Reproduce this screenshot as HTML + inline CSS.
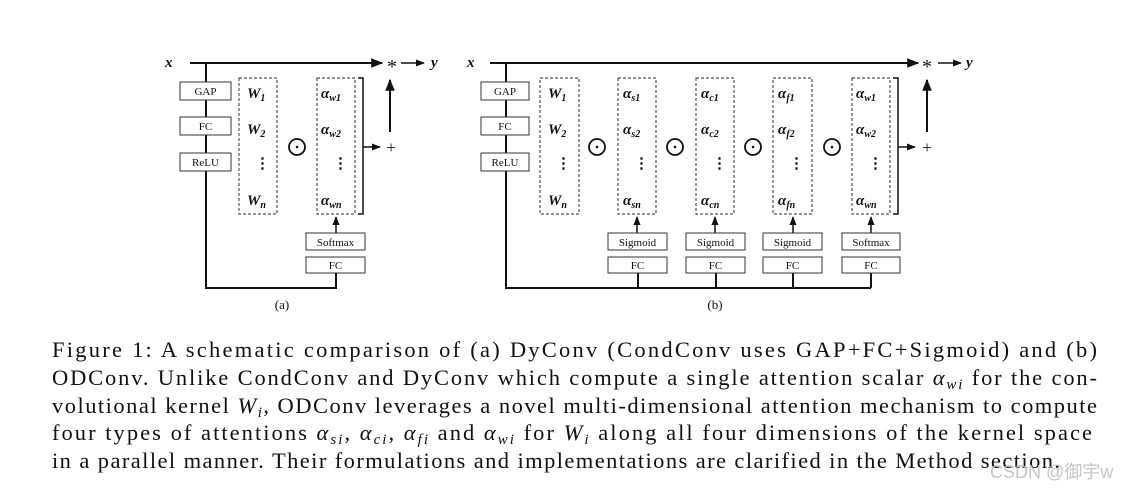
<!DOCTYPE html>
<html><head><meta charset="utf-8"><style>
html,body{margin:0;padding:0;background:#fff;}
svg{display:block}
.b{font-family:"Liberation Serif",serif;font-size:11px;fill:#111}
.m{font-family:"Liberation Serif",serif;font-weight:bold;font-style:italic;font-size:15px;fill:#111}
.s{font-size:10px}
.c{font-family:"Liberation Serif",serif;font-size:22.5px;fill:#111}
</style></head><body>
<svg width="1135" height="492" viewBox="0 0 1135 492" xmlns="http://www.w3.org/2000/svg">
<defs>
<marker id="ar" viewBox="0 0 10 10" refX="9" refY="5" markerWidth="6" markerHeight="6" orient="auto"><path d="M0,1 L10,5 L0,9 z" fill="#111"/></marker>
<g id="wcol" class="m">
</g>
</defs>
<g stroke="#111" stroke-width="2" fill="none">
<!-- (a) -->
<line x1="190" y1="63" x2="382" y2="63" marker-end="url(#ar)"/>
<line x1="401" y1="63" x2="424" y2="63" stroke-width="1.5" marker-end="url(#ar)"/>
<polyline points="206,63 206,288 336,288 336,272"/>
<line x1="336" y1="237" x2="336" y2="217" stroke-width="1.5" marker-end="url(#ar)"/>
<polyline points="358,78 363,78 363,214 358,214" stroke-width="1.5"/>
<line x1="363" y1="147" x2="380" y2="147" stroke-width="1.5" marker-end="url(#ar)"/>
<line x1="390" y1="132" x2="390" y2="80" marker-end="url(#ar)"/>
<circle cx="297" cy="147" r="8" stroke-width="1.8"/>
<!-- (b) -->
<line x1="490" y1="63" x2="918" y2="63" marker-end="url(#ar)"/>
<line x1="938" y1="63" x2="961" y2="63" stroke-width="1.5" marker-end="url(#ar)"/>
<polyline points="506,63 506,288 871,288"/>
<line x1="638" y1="288" x2="638" y2="272"/>
<line x1="716" y1="288" x2="716" y2="272"/>
<line x1="793" y1="288" x2="793" y2="272"/>
<line x1="871" y1="288" x2="871" y2="272"/>
<line x1="637" y1="237" x2="637" y2="217" stroke-width="1.5" marker-end="url(#ar)"/>
<line x1="715" y1="237" x2="715" y2="217" stroke-width="1.5" marker-end="url(#ar)"/>
<line x1="793" y1="237" x2="793" y2="217" stroke-width="1.5" marker-end="url(#ar)"/>
<line x1="871" y1="237" x2="871" y2="217" stroke-width="1.5" marker-end="url(#ar)"/>
<polyline points="893,78 898,78 898,214 893,214" stroke-width="1.5"/>
<line x1="898" y1="147" x2="915" y2="147" stroke-width="1.5" marker-end="url(#ar)"/>
<line x1="927" y1="132" x2="927" y2="80" marker-end="url(#ar)"/>
<circle cx="597" cy="147" r="8" stroke-width="1.8"/>
<circle cx="675" cy="147" r="8" stroke-width="1.8"/>
<circle cx="753" cy="147" r="8" stroke-width="1.8"/>
<circle cx="832" cy="147" r="8" stroke-width="1.8"/>
</g>
<g fill="#111"><circle cx="297" cy="147" r="1.3"/><circle cx="597" cy="147" r="1.3"/><circle cx="675" cy="147" r="1.3"/><circle cx="753" cy="147" r="1.3"/><circle cx="832" cy="147" r="1.3"/></g>
<!-- dashed boxes -->
<g stroke="#555" stroke-width="1.2" stroke-dasharray="3,2" fill="none">
<rect x="239" y="78" width="38" height="136"/><rect x="317" y="78" width="38" height="136"/>
<rect x="540" y="78" width="39" height="136"/><rect x="618" y="78" width="38" height="136"/>
<rect x="696" y="78" width="38" height="136"/><rect x="773" y="78" width="39" height="136"/>
<rect x="852" y="78" width="38" height="136"/>
</g>
<!-- solid boxes -->
<g stroke="#333" stroke-width="1" fill="#fff">
<rect x="180" y="82" width="51" height="18"/><rect x="180" y="117" width="51" height="18"/><rect x="180" y="153" width="51" height="18"/>
<rect x="306" y="233" width="59" height="17"/><rect x="306" y="257" width="59" height="16"/>
<rect x="481" y="82" width="48" height="18"/><rect x="481" y="117" width="48" height="18"/><rect x="481" y="153" width="48" height="18"/>
<rect x="608" y="233" width="59" height="17"/><rect x="608" y="257" width="59" height="16"/>
<rect x="686" y="233" width="59" height="17"/><rect x="686" y="257" width="59" height="16"/>
<rect x="763" y="233" width="59" height="17"/><rect x="763" y="257" width="59" height="16"/>
<rect x="842" y="233" width="58" height="17"/><rect x="842" y="257" width="58" height="16"/>
</g>
<g class="b" text-anchor="middle">
<text x="205.5" y="95">GAP</text><text x="205.5" y="130">FC</text><text x="205.5" y="166">ReLU</text>
<text x="335.5" y="246">Softmax</text><text x="335.5" y="269">FC</text>
<text x="505" y="95">GAP</text><text x="505" y="130">FC</text><text x="505" y="166">ReLU</text>
<text x="637.5" y="246">Sigmoid</text><text x="637.5" y="269">FC</text>
<text x="715.5" y="246">Sigmoid</text><text x="715.5" y="269">FC</text>
<text x="792.5" y="246">Sigmoid</text><text x="792.5" y="269">FC</text>
<text x="871" y="246">Softmax</text><text x="871" y="269">FC</text>
<text x="282" y="309" font-size="13">(a)</text><text x="715" y="309" font-size="13">(b)</text>
</g>
<g class="m">
<text x="165" y="67">x</text><text x="431" y="67">y</text>
<text x="467" y="67">x</text><text x="966" y="67">y</text>
</g>
<g font-family="Liberation Serif,serif" font-size="20" fill="#111" text-anchor="middle">
<text x="392" y="73">*</text><text x="927" y="73">*</text>
<text x="391" y="153" font-size="17">+</text><text x="927" y="153" font-size="17">+</text>
</g>
<!-- columns -->
<g class="m">
<text x="247" y="98">W<tspan class="s" dy="3">1</tspan></text>
<text x="247" y="134">W<tspan class="s" dy="3">2</tspan></text>
<text x="255" y="168" font-style="normal">⋮</text>
<text x="247" y="205">W<tspan class="s" dy="3">n</tspan></text>
<text x="321" y="98">α<tspan class="s" dy="3">w1</tspan></text>
<text x="321" y="134">α<tspan class="s" dy="3">w2</tspan></text>
<text x="333" y="168" font-style="normal">⋮</text>
<text x="321" y="205">α<tspan class="s" dy="3">wn</tspan></text>

<text x="548" y="98">W<tspan class="s" dy="3">1</tspan></text>
<text x="548" y="134">W<tspan class="s" dy="3">2</tspan></text>
<text x="556" y="168" font-style="normal">⋮</text>
<text x="548" y="205">W<tspan class="s" dy="3">n</tspan></text>
<text x="623" y="98">α<tspan class="s" dy="3">s1</tspan></text>
<text x="623" y="134">α<tspan class="s" dy="3">s2</tspan></text>
<text x="634" y="168" font-style="normal">⋮</text>
<text x="623" y="205">α<tspan class="s" dy="3">sn</tspan></text>
<text x="701" y="98">α<tspan class="s" dy="3">c1</tspan></text>
<text x="701" y="134">α<tspan class="s" dy="3">c2</tspan></text>
<text x="712" y="168" font-style="normal">⋮</text>
<text x="701" y="205">α<tspan class="s" dy="3">cn</tspan></text>
<text x="778" y="98">α<tspan class="s" dy="3">f1</tspan></text>
<text x="778" y="134">α<tspan class="s" dy="3">f2</tspan></text>
<text x="789" y="168" font-style="normal">⋮</text>
<text x="778" y="205">α<tspan class="s" dy="3">fn</tspan></text>
<text x="856" y="98">α<tspan class="s" dy="3">w1</tspan></text>
<text x="856" y="134">α<tspan class="s" dy="3">w2</tspan></text>
<text x="868" y="168" font-style="normal">⋮</text>
<text x="856" y="205">α<tspan class="s" dy="3">wn</tspan></text>
</g>
<!-- caption -->
<g class="c">
<text x="52" y="357" textLength="1045" lengthAdjust="spacing">Figure 1:  A schematic comparison of (a) DyConv (CondConv uses GAP+FC+Sigmoid) and (b)</text>
<text x="52" y="385" textLength="1045" lengthAdjust="spacing">ODConv. Unlike CondConv and DyConv which compute a single attention scalar <tspan font-style="italic">α<tspan font-size="15" dy="4">wi</tspan></tspan><tspan dy="-4"> for the con-</tspan></text>
<text x="52" y="413" textLength="1045" lengthAdjust="spacing">volutional kernel <tspan font-style="italic">W<tspan font-size="15" dy="4">i</tspan></tspan><tspan dy="-4">, ODConv leverages a novel multi-dimensional attention mechanism to compute</tspan></text>
<text x="52" y="440" textLength="1040" lengthAdjust="spacing">four types of attentions <tspan font-style="italic">α<tspan font-size="15" dy="4">si</tspan></tspan><tspan dy="-4">, </tspan><tspan font-style="italic">α<tspan font-size="15" dy="4">ci</tspan></tspan><tspan dy="-4">, </tspan><tspan font-style="italic">α<tspan font-size="15" dy="4">fi</tspan></tspan><tspan dy="-4"> and </tspan><tspan font-style="italic">α<tspan font-size="15" dy="4">wi</tspan></tspan><tspan dy="-4"> for </tspan><tspan font-style="italic">W<tspan font-size="15" dy="4">i</tspan></tspan><tspan dy="-4"> along all four dimensions of the kernel space</tspan></text>
<text x="52" y="468" textLength="1008" lengthAdjust="spacing">in a parallel manner. Their formulations and implementations are clarified in the Method section.</text>
</g>
<text x="990" y="478" font-family="Liberation Sans,'Noto Sans CJK SC',sans-serif" font-size="18" fill="#bbb" opacity="0.85">CSDN @御宇w</text>
</svg>
</body></html>
